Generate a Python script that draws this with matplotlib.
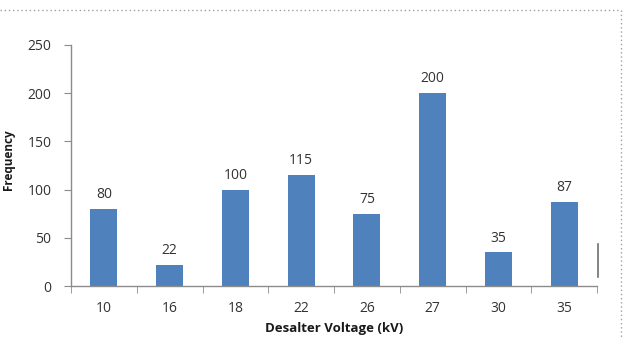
import matplotlib
matplotlib.use("Agg")
import matplotlib.pyplot as plt
from matplotlib.lines import Line2D

voltages = ["10", "16", "18", "22", "26", "27", "30", "35"]
frequency = [80, 22, 100, 115, 75, 200, 35, 87]
y_ticks = [0, 50, 100, 150, 200, 250]

plt.rcParams["font.family"] = ["Open Sans", "DejaVu Sans"]

W, H = 637, 337
fig = plt.figure(figsize=(W / 100, H / 100), dpi=100)
ax = fig.add_axes([71 / W, 1 - 286 / H, (597 - 71) / W, (286 - 45) / H])

text_color = "#333333"
x = list(range(len(voltages)))
ax.bar(x, frequency, width=0.41, color="#4F81BD", zorder=2)
for xi, v in zip(x, frequency):
    ax.text(xi, v + 7, str(v), ha="center", va="bottom", fontsize=10, color=text_color)

ax.set_xlim(-0.5, len(voltages) - 0.5)
ax.set_ylim(0, 250)
ax.set_yticks(y_ticks)
ax.set_xticks(x)
ax.set_xticklabels(voltages)
ax.set_xticks([i - 0.5 for i in range(len(voltages) + 1)], minor=True)

grey = "#8C8C8C"
for side in ("top", "right"):
    ax.spines[side].set_visible(False)
for side in ("left", "bottom"):
    ax.spines[side].set_color(grey)
    ax.spines[side].set_linewidth(1.0)

ax.tick_params(axis="y", length=5, color=grey, labelsize=10, labelcolor=text_color, pad=9)
ax.tick_params(axis="x", which="major", length=0, labelsize=10, labelcolor=text_color, pad=11)
ax.tick_params(axis="x", which="minor", length=5, color=grey)

ax.set_xlabel("Desalter Voltage (kV)", fontsize=9.5, fontweight="bold", labelpad=4, color="#1a1a1a")
fig.text(9 / W, 1 - 160 / H, "Frequency", rotation=90, ha="center", va="center",
         fontsize=8.5, fontweight="bold", color="#1a1a1a")

# dotted frame along the top and right edges
fig.add_artist(Line2D([0, 621 / W], [1 - 10 / H, 1 - 10 / H], transform=fig.transFigure,
                      color="#A0A0A0", linestyle=(0, (1, 2)), linewidth=1))
fig.add_artist(Line2D([621 / W, 621 / W], [1 - 10 / H, 0], transform=fig.transFigure,
                      color="#A0A0A0", linestyle=(0, (1, 2)), linewidth=1))
# short vertical stroke near the lower right
fig.add_artist(Line2D([598 / W, 598 / W], [1 - 244 / H, 1 - 277 / H], transform=fig.transFigure,
                      color="#707070", linewidth=1.2))

fig.savefig("out.png", dpi=100)
